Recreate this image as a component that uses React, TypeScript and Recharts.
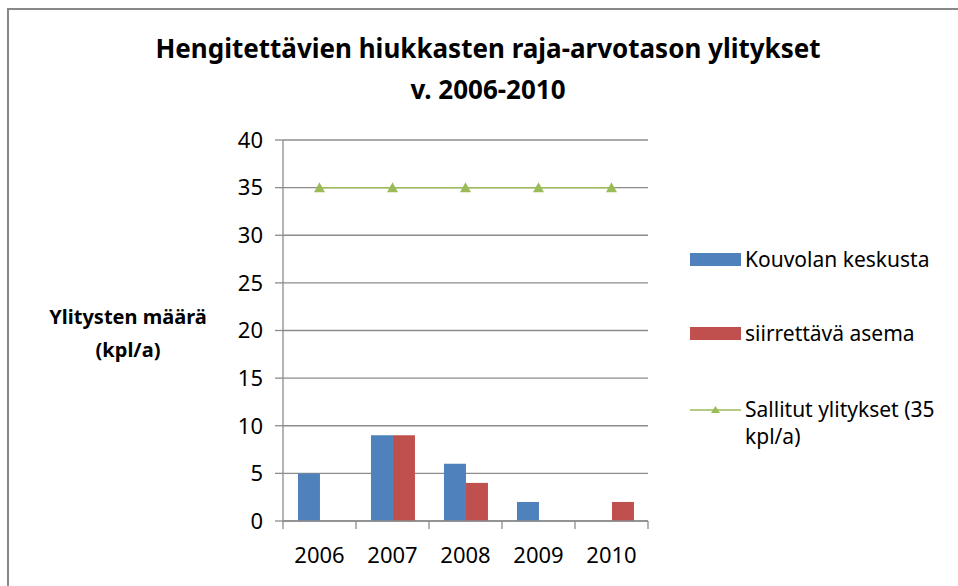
import React from 'react';
import {
  ComposedChart,
  Bar,
  Line,
  XAxis,
  YAxis,
  CartesianGrid
} from 'recharts';

const years = ['2006', '2007', '2008', '2009', '2010'];
const kouvola = [5, 9, 6, 2, 0];
const siirrettava = [0, 9, 4, 0, 2];
const sallitut = [35, 35, 35, 35, 35];
const yTicks = [0, 5, 10, 15, 20, 25, 30, 35, 40];

const FONT = '"Noto Sans", "Open Sans", sans-serif';
const BLUE = '#4F81BD';
const RED = '#C0504D';
const GREEN = '#9BBB59';
const GRID = '#8c8c8c';

const data = years.map((year, i) => ({
  year,
  kouvola: kouvola[i],
  siirrettava: siirrettava[i],
  sallitut: sallitut[i]
}));

const legendItems = [
  { name: 'Kouvolan keskusta', color: BLUE, type: 'rect', top: 246 },
  { name: 'siirrettävä asema', color: RED, type: 'rect', top: 320 },
  { name: 'Sallitut ylitykset (35 kpl/a)', color: GREEN, type: 'line', top: 396 }
];

const Triangle = (props: any) => {
  const { cx, cy } = props;
  if (cx == null || cy == null) return null;
  return (
    <path
      d={`M${cx - 5.5},${cy + 4.5} L${cx},${cy - 5.5} L${cx + 5.5},${cy + 4.5} Z`}
      fill={GREEN}
    />
  );
};

// category label plus tick marks on the band edges (Excel style)
const YearTick = (props: any) => {
  const { x, y, payload, index, visibleTicksCount } = props;
  const half = payload.offset || 0;
  const top = y - 8;
  const last = index === visibleTicksCount - 1;
  return (
    <g>
      <line x1={x - half} y1={top} x2={x - half} y2={top + 8} stroke={GRID} strokeWidth={1.3} />
      {last && <line x1={x + half} y1={top} x2={x + half} y2={top + 8} stroke={GRID} strokeWidth={1.3} />}
      <text x={x} y={y + 26} dy="0.35em" textAnchor="middle" fill="#000" fontSize={22} fontFamily={FONT}>
        {payload.value}
      </text>
    </g>
  );
};

const LegendBox = () => (
  <>
    {legendItems.map((item, i) => (
      <div
        key={i}
        style={{
          position: 'absolute',
          left: 690,
          top: item.top,
          display: 'flex',
          alignItems: 'flex-start',
          fontFamily: FONT,
          fontSize: 21,
          color: '#000'
        }}
      >
        <svg width={55} height={28} style={{ flex: 'none' }}>
          {item.type === 'line' ? (
            <g>
              <line x1={0} y1={14} x2={51} y2={14} stroke={item.color} strokeWidth={1.5} />
              <path d="M21,17 L25.5,10 L30,17 Z" fill={item.color} />
            </g>
          ) : (
            <rect x={0} y={7} width={51} height={13} fill={item.color} />
          )}
        </svg>
        <span style={{ lineHeight: '27px', width: 210 }}>{item.name}</span>
      </div>
    ))}
  </>
);

export default function App() {
  return (
    <div style={{ position: 'absolute', left: 0, top: 0, width: 958, height: 586, background: '#fff', overflow: 'hidden' }}>
      <div
        style={{
          position: 'absolute',
          left: 7,
          top: 8,
          width: 1000,
          height: 700,
          border: '2px solid #888',
          boxSizing: 'border-box'
        }}
      />
      <div
        style={{
          position: 'absolute',
          left: 0,
          top: 28,
          width: 976,
          textAlign: 'center',
          fontFamily: FONT,
          fontWeight: 700,
          fontSize: 26,
          lineHeight: '41px',
          color: '#000'
        }}
      >
        Hengitettävien hiukkasten raja-arvotason ylitykset
        <br />
        v. 2006-2010
      </div>
      <div
        style={{
          position: 'absolute',
          left: 28,
          top: 300,
          width: 200,
          textAlign: 'center',
          fontFamily: FONT,
          fontWeight: 700,
          fontSize: 20,
          lineHeight: '33px',
          color: '#000'
        }}
      >
        Ylitysten määrä
        <br />
        (kpl/a)
      </div>
      <div style={{ position: 'absolute', left: 0, top: 0 }}>
        <ComposedChart
          width={958}
          height={586}
          data={data}
          margin={{ top: 140, right: 310, left: 223, bottom: 0 }}
          barCategoryGap="20.5%"
          barGap={0}
        >
          <CartesianGrid vertical={false} stroke={GRID} strokeWidth={1.3} />
          <XAxis
            dataKey="year"
            stroke={GRID}
            strokeWidth={1.3}
            tickLine={false}
            tickSize={8}
            tickMargin={0}
            height={65}
            interval={0}
            tick={<YearTick />}
          />
          <YAxis
            domain={[0, 40]}
            ticks={yTicks}
            width={60}
            tickSize={8}
            tickMargin={12}
            stroke={GRID}
            strokeWidth={1.3}
            tick={{ fill: '#000', fontSize: 22, fontFamily: FONT }}
          />
          <Bar dataKey="kouvola" name="Kouvolan keskusta" fill={BLUE} isAnimationActive={false} />
          <Bar dataKey="siirrettava" name="siirrettävä asema" fill={RED} isAnimationActive={false} />
          <Line
            dataKey="sallitut"
            name="Sallitut ylitykset (35 kpl/a)"
            stroke={GREEN}
            strokeWidth={1.5}
            dot={<Triangle />}
            activeDot={false}
            isAnimationActive={false}
          />
        </ComposedChart>
      </div>
      <LegendBox />
    </div>
  );
}
